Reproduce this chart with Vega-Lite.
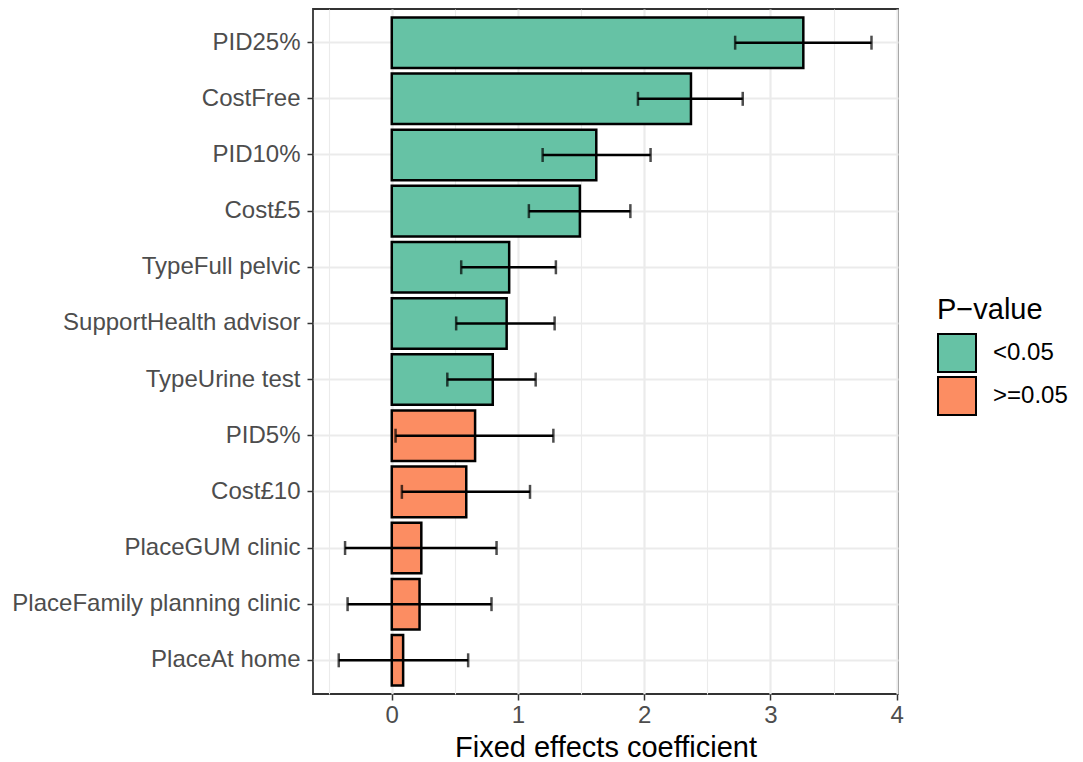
{
  "$schema": "https://vega.github.io/schema/vega-lite/v6.json",
  "autosize": {"type": "none"},
  "padding": {"left": 313, "top": 9, "right": 185, "bottom": 68},
  "width": 585,
  "height": 685,
  "background": "white",
  "config": {
    "font": "Liberation Sans",
    "view": {"stroke": "#333333", "strokeWidth": 1.8}
  },
  "data": {
    "values": [
      {"term": "PID25%", "coef": 3.26, "lo": 2.72, "hi": 3.80, "p": "<0.05"},
      {"term": "CostFree", "coef": 2.37, "lo": 1.95, "hi": 2.78, "p": "<0.05"},
      {"term": "PID10%", "coef": 1.62, "lo": 1.195, "hi": 2.05, "p": "<0.05"},
      {"term": "Cost£5", "coef": 1.49, "lo": 1.086, "hi": 1.89, "p": "<0.05"},
      {"term": "TypeFull pelvic", "coef": 0.93, "lo": 0.55, "hi": 1.30, "p": "<0.05"},
      {"term": "SupportHealth advisor", "coef": 0.91, "lo": 0.51, "hi": 1.29, "p": "<0.05"},
      {"term": "TypeUrine test", "coef": 0.80, "lo": 0.44, "hi": 1.14, "p": "<0.05"},
      {"term": "PID5%", "coef": 0.66, "lo": 0.03, "hi": 1.28, "p": ">=0.05"},
      {"term": "Cost£10", "coef": 0.59, "lo": 0.08, "hi": 1.095, "p": ">=0.05"},
      {"term": "PlaceGUM clinic", "coef": 0.234, "lo": -0.37, "hi": 0.83, "p": ">=0.05"},
      {"term": "PlaceFamily planning clinic", "coef": 0.22, "lo": -0.35, "hi": 0.79, "p": ">=0.05"},
      {"term": "PlaceAt home", "coef": 0.09, "lo": -0.42, "hi": 0.605, "p": ">=0.05"}
    ]
  },
  "encoding": {
    "y": {
      "field": "term",
      "type": "nominal",
      "sort": null,
      "scale": {"paddingInner": 0.1, "paddingOuter": 0.15},
      "axis": {
        "title": null,
        "labelFontSize": 24,
        "labelColor": "#4D4D4D",
        "labelPadding": 7,
        "tickSize": 6,
        "tickWidth": 1.5,
        "tickColor": "#333333",
        "domain": false,
        "grid": true,
        "gridColor": "#EBEBEB",
        "gridWidth": 2.2,
        "labelLimit": 400
      }
    }
  },
  "layer": [
    {
      "mark": {"type": "bar", "stroke": "black", "strokeWidth": 2.5},
      "encoding": {
        "x": {
          "field": "coef",
          "type": "quantitative",
          "scale": {"domain": [-0.624, 4.01], "nice": false, "zero": false},
          "axis": {
            "title": "Fixed effects coefficient",
            "titleFontSize": 29,
            "titleFontWeight": "normal",
            "titleColor": "black",
            "titlePadding": 6,
            "values": [-0.5, 0, 0.5, 1, 1.5, 2, 2.5, 3, 3.5, 4],
            "labelExpr": "datum.value % 1 === 0 ? format(datum.value, 'd') : ''",
            "labelFontSize": 24,
            "labelColor": "#4D4D4D",
            "labelPadding": 3,
            "labelFlush": false,
            "tickSize": 6,
            "tickWidth": 1.5,
            "tickColor": {"condition": {"test": "datum.value % 1 !== 0", "value": "transparent"}, "value": "#333333"},
            "domain": false,
            "grid": true,
            "gridColor": "#EBEBEB",
            "gridWidth": {"condition": {"test": "datum.value % 1 !== 0", "value": 1.1}, "value": 2.2}
          }
        },
        "color": {
          "field": "p",
          "type": "nominal",
          "scale": {"domain": ["<0.05", ">=0.05"], "range": ["#66C2A5", "#FC8D62"]},
          "legend": {
            "title": "P−value",
            "orient": "none",
            "legendX": 624,
            "legendY": 287,
            "padding": 0,
            "titleFontSize": 29,
            "titleFontWeight": "normal",
            "titleColor": "black",
            "titlePadding": 8,
            "labelFontSize": 24,
            "labelColor": "black",
            "labelOffset": 16,
            "symbolType": "square",
            "symbolSize": 1444,
            "symbolStrokeColor": "black",
            "symbolStrokeWidth": 2,
            "symbolOpacity": 1,
            "rowPadding": -4
          }
        }
      }
    },
    {
      "mark": {"type": "rule", "color": "black", "strokeWidth": 2.5},
      "encoding": {
        "x": {"field": "lo", "type": "quantitative"},
        "x2": {"field": "hi"}
      }
    },
    {
      "mark": {"type": "tick", "color": "black", "thickness": 2.5, "size": 14, "orient": "vertical"},
      "encoding": {"x": {"field": "lo", "type": "quantitative"}}
    },
    {
      "mark": {"type": "tick", "color": "black", "thickness": 2.5, "size": 14, "orient": "vertical"},
      "encoding": {"x": {"field": "hi", "type": "quantitative"}}
    }
  ]
}
